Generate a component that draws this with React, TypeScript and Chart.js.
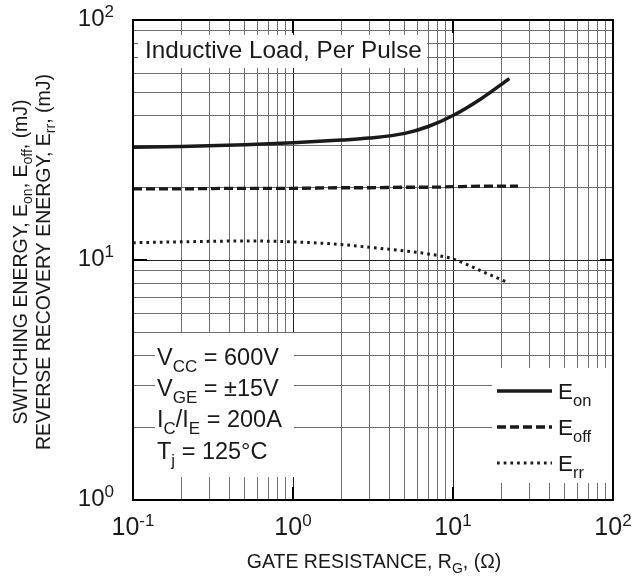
import React, { useEffect, useRef } from 'react';
import { Chart, registerables } from 'chart.js';
Chart.register(...registerables);

// ---- data ----
const RG_ON = [0.1, 0.2, 0.5, 1, 2, 3, 5, 7, 10, 15, 22.5];
const E_ON = [29.5, 29.7, 30.2, 30.8, 31.6, 32.2, 33.7, 36.0, 40.0, 47.0, 57.0];
const RG_OFF = [0.1, 0.2, 0.5, 1, 2, 3, 5, 7, 10, 15, 25.5];
const E_OFF = [19.8, 19.8, 19.9, 19.9, 20.0, 20.0, 20.1, 20.1, 20.2, 20.3, 20.3];
const RG_RR = [0.1, 0.2, 0.5, 1, 2, 3, 5, 7, 10, 15, 21.6];
const E_RR = [11.8, 11.9, 12.0, 11.9, 11.6, 11.3, 10.9, 10.6, 10.1, 9.0, 8.1];

const X_MAJOR = [0.1, 1, 10, 100];
const X_EXP = ['-1', '0', '1', '2'];
const Y_MAJOR = [1, 10, 100];
const Y_EXP = ['0', '1', '2'];
const MINOR_STEPS = [1, 2, 3, 4, 5, 6, 7, 8, 9];

type Part = { t: string; k?: 'sub' | 'sup' };

const TITLE_BOX_TEXT = 'Inductive Load, Per Pulse';
const COND_LINES: Part[][] = [
  [{ t: 'V' }, { t: 'CC', k: 'sub' }, { t: ' = 600V' }],
  [{ t: 'V' }, { t: 'GE', k: 'sub' }, { t: ' = ±15V' }],
  [{ t: 'I' }, { t: 'C', k: 'sub' }, { t: '/I' }, { t: 'E', k: 'sub' }, { t: ' = 200A' }],
  [{ t: 'T' }, { t: 'j', k: 'sub' }, { t: ' = 125°C' }],
];
const LEGEND_NAMES: Part[][] = [
  [{ t: 'E' }, { t: 'on', k: 'sub' }],
  [{ t: 'E' }, { t: 'off', k: 'sub' }],
  [{ t: 'E' }, { t: 'rr', k: 'sub' }],
];
const Y_TITLE_1: Part[] = [
  { t: 'SWITCHING ENERGY, E' }, { t: 'on', k: 'sub' }, { t: ', E' }, { t: 'off', k: 'sub' }, { t: ', (mJ)' },
];
const Y_TITLE_2: Part[] = [
  { t: 'REVERSE RECOVERY ENERGY, E' }, { t: 'rr', k: 'sub' }, { t: ', (mJ)' },
];
const X_TITLE: Part[] = [{ t: 'GATE RESISTANCE, R' }, { t: 'G', k: 'sub' }, { t: ', (Ω)' }];

const FONT = '"Liberation Sans", Arial, Helvetica, sans-serif';

function gridValues(major: number[]): number[] {
  const out: number[] = [];
  for (let i = 0; i < major.length - 1; i++) {
    for (const s of MINOR_STEPS) out.push(major[i] * s);
  }
  out.push(major[major.length - 1]);
  return out;
}

function isMajor(v: number): boolean {
  const l = Math.log10(v);
  return Math.abs(l - Math.round(l)) < 1e-6;
}

function drawParts(
  ctx: CanvasRenderingContext2D,
  parts: Part[],
  x: number,
  y: number,
  size: number,
  small: number,
  align: 'left' | 'center' | 'right',
  subDy: number,
  supDy: number
) {
  const widths = parts.map((p) => {
    ctx.font = `${p.k ? small : size}px ${FONT}`;
    return ctx.measureText(p.t).width;
  });
  const total = widths.reduce((a, b) => a + b, 0);
  let cx = align === 'left' ? x : align === 'center' ? x - total / 2 : x - total;
  ctx.textAlign = 'left';
  ctx.textBaseline = 'alphabetic';
  parts.forEach((p, i) => {
    ctx.font = `${p.k ? small : size}px ${FONT}`;
    const dy = p.k === 'sub' ? subDy : p.k === 'sup' ? -supDy : 0;
    ctx.fillText(p.t, cx, y + dy);
    cx += widths[i];
  });
}

const overlayPlugin = {
  id: 'overlay',
  beforeDatasetsDraw(chart: any) {
    const ctx: CanvasRenderingContext2D = chart.ctx;
    ctx.save();
    ctx.fillStyle = '#ffffff';
    ctx.fillRect(138, 35, 289, 33); // title box
    ctx.fillRect(155, 333, 139, 144); // conditions box
    ctx.fillRect(492, 368, 121, 115); // legend box
    ctx.restore();
  },
  afterDraw(chart: any) {
    const ctx: CanvasRenderingContext2D = chart.ctx;
    const a = chart.chartArea;
    const xs = chart.scales.x;
    const ys = chart.scales.y;
    ctx.save();
    ctx.fillStyle = '#1a1a1a';
    ctx.strokeStyle = '#000';

    // major tick marks (inside, all sides)
    ctx.lineWidth = 2;
    ctx.beginPath();
    X_MAJOR.forEach((v) => {
      const px = xs.getPixelForValue(v);
      ctx.moveTo(px, a.bottom);
      ctx.lineTo(px, a.bottom - 13);
      ctx.moveTo(px, a.top);
      ctx.lineTo(px, a.top + 13);
    });
    Y_MAJOR.forEach((v) => {
      const py = ys.getPixelForValue(v);
      ctx.moveTo(a.left, py);
      ctx.lineTo(a.left + 14, py);
      ctx.moveTo(a.right, py);
      ctx.lineTo(a.right - 13, py);
    });
    ctx.stroke();

    // frame
    ctx.lineWidth = 2;
    ctx.strokeRect(a.left, a.top, a.right - a.left, a.bottom - a.top);

    // tick labels
    X_MAJOR.forEach((v, i) => {
      const px = xs.getPixelForValue(v);
      drawParts(ctx, [{ t: '10' }, { t: X_EXP[i], k: 'sup' }], px, 535, 25, 17, 'center', 0, 9);
    });
    Y_MAJOR.forEach((v, i) => {
      const py = ys.getPixelForValue(v);
      drawParts(ctx, [{ t: '10' }, { t: Y_EXP[i], k: 'sup' }], 114, py + 6, 24, 17, 'right', 0, 9);
    });

    // title box text
    ctx.font = `24.3px ${FONT}`;
    ctx.textAlign = 'left';
    ctx.textBaseline = 'alphabetic';
    ctx.fillText(TITLE_BOX_TEXT, 145, 58);

    // conditions
    COND_LINES.forEach((ln, i) => {
      drawParts(ctx, ln, 157, 365 + i * 31.2, 23.5, 17, 'left', 7, 0);
    });

    // legend
    const styles = chart.data.datasets;
    LEGEND_NAMES.forEach((ln, i) => {
      const ly = 391 + i * 36;
      const ds = styles[i];
      ctx.save();
      ctx.strokeStyle = ds.borderColor;
      ctx.lineWidth = ds.borderWidth;
      ctx.setLineDash(ds.borderDash || []);
      ctx.beginPath();
      ctx.moveTo(497, ly);
      ctx.lineTo(552, ly);
      ctx.stroke();
      ctx.restore();
      drawParts(ctx, ln, 558, ly + 8, 22.5, 16.5, 'left', 7, 0);
    });

    // axis titles
    drawParts(ctx, X_TITLE, 374, 568, 19.5, 14, 'center', 5, 0);
    ctx.save();
    ctx.translate(27, 262);
    ctx.rotate(-Math.PI / 2);
    drawParts(ctx, Y_TITLE_1, 0, 0, 19.5, 14, 'center', 5, 0);
    ctx.restore();
    ctx.save();
    ctx.translate(50, 262);
    ctx.rotate(-Math.PI / 2);
    drawParts(ctx, Y_TITLE_2, 0, 0, 19.5, 14, 'center', 5, 0);
    ctx.restore();

    ctx.restore();
  },
};

export default function App() {
  const ref = useRef<HTMLCanvasElement | null>(null);
  useEffect(() => {
    if (!ref.current) return;
    const xGrid = gridValues(X_MAJOR);
    const yGrid = gridValues(Y_MAJOR);
    const gridColor = (c: any) => (c.tick && isMajor(c.tick.value) ? '#222222' : '#6e6e6e');
    const chart = new Chart(ref.current, {
      type: 'line',
      data: {
        datasets: [
          {
            label: 'Eon',
            data: RG_ON.map((x, i) => ({ x, y: E_ON[i] })),
            borderColor: '#1a1a1a',
            borderWidth: 3.5,
            borderDash: [],
            pointRadius: 0,
            cubicInterpolationMode: 'monotone',
            fill: false,
          },
          {
            label: 'Eoff',
            data: RG_OFF.map((x, i) => ({ x, y: E_OFF[i] })),
            borderColor: '#1a1a1a',
            borderWidth: 3.3,
            borderDash: [9, 4],
            pointRadius: 0,
            cubicInterpolationMode: 'monotone',
            fill: false,
          },
          {
            label: 'Err',
            data: RG_RR.map((x, i) => ({ x, y: E_RR[i] })),
            borderColor: '#1a1a1a',
            borderWidth: 3,
            borderDash: [2.7, 4],
            pointRadius: 0,
            cubicInterpolationMode: 'monotone',
            fill: false,
          },
        ],
      },
      options: {
        animation: false,
        responsive: false,
        devicePixelRatio: 1,
        layout: { padding: { left: 0, top: 20, right: 23, bottom: 0 } },
        plugins: { legend: { display: false }, tooltip: { enabled: false } },
        scales: {
          x: {
            type: 'logarithmic',
            min: 0.1,
            max: 100,
            ticks: { display: false },
            border: { display: false },
            grid: { color: gridColor, lineWidth: 1, drawTicks: false },
            afterBuildTicks: (s: any) => {
              s.ticks = xGrid.map((v) => ({ value: v }));
            },
            afterFit: (s: any) => {
              s.height = 78;
            },
          },
          y: {
            type: 'logarithmic',
            min: 1,
            max: 100,
            ticks: { display: false },
            border: { display: false },
            grid: { color: gridColor, lineWidth: 1, drawTicks: false },
            afterBuildTicks: (s: any) => {
              s.ticks = yGrid.map((v) => ({ value: v }));
            },
            afterFit: (s: any) => {
              s.width = 133;
            },
          },
        },
      } as any,
      plugins: [overlayPlugin],
    });
    return () => chart.destroy();
  }, []);
  return (
    <div style={{ position: 'absolute', left: 0, top: 0, width: 636, height: 578, background: '#fff' }}>
      <canvas ref={ref} width={636} height={578} />
    </div>
  );
}
